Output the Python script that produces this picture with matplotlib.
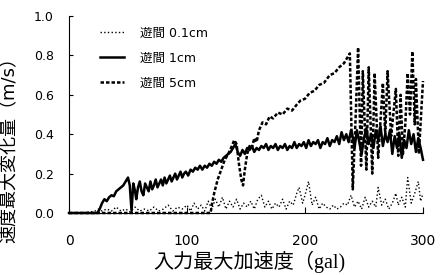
import matplotlib
matplotlib.use("Agg")
import matplotlib.pyplot as plt

# data
# ---------------------------
# 遊間 0.1cm (dotted)
x_01 = [0, 10, 18, 22, 25, 28, 32, 36, 40, 44, 48, 52, 56, 60, 64, 68, 72, 76, 80,
        84, 88, 92, 96, 100, 103, 106, 109, 112, 115, 118, 121, 124, 127, 130, 133,
        136, 139, 142, 145, 148, 151, 154, 157, 160, 163, 166, 169, 172, 175, 178,
        181, 184, 187, 190, 193, 195, 198, 200, 203, 206, 209, 212, 215, 218, 221,
        224, 227, 230, 233, 236, 239, 242, 245, 248, 251, 254, 257, 260, 262, 265,
        268, 271, 274, 277, 279, 282, 285, 287, 290, 293, 296, 298, 300]
y_01 = [0, 0, 0.005, 0.01, 0.02, 0.01, 0.02, 0.01, 0.03, 0.01, 0.02, 0.005, 0.03,
        0.01, 0.02, 0.01, 0.03, 0.01, 0.02, 0.04, 0.01, 0.03, 0.02, 0.04, 0.01, 0.05,
        0.02, 0.04, 0.01, 0.06, 0.02, 0.07, 0.03, 0.08, 0.02, 0.06, 0.03, 0.07, 0.02,
        0.05, 0.03, 0.06, 0.02, 0.07, 0.09, 0.03, 0.06, 0.02, 0.05, 0.03, 0.07, 0.02,
        0.06, 0.04, 0.10, 0.13, 0.05, 0.09, 0.16, 0.04, 0.08, 0.02, 0.05, 0.03, 0.02,
        0.04, 0.02, 0.03, 0.05, 0.04, 0.09, 0.03, 0.06, 0.02, 0.08, 0.03, 0.06, 0.03,
        0.13, 0.04, 0.07, 0.02, 0.05, 0.10, 0.04, 0.08, 0.03, 0.18, 0.05, 0.10, 0.16,
        0.06, 0.10]

# 遊間 1cm (solid)
x_1 = [0, 24, 26, 28, 30, 32, 34, 36, 38, 40, 42, 44, 46, 48, 50, 51.5, 53, 54.5,
       56, 57, 58.5, 60, 61.5, 63, 64.5, 66, 67.5, 69, 70.5, 72, 73.5, 75, 76.5, 78,
       79.5, 81, 82.5, 84, 85.5, 87, 88.5, 90, 91.5, 93, 94.5, 96, 97.5, 99, 101,
       103, 105, 107, 109, 111, 113, 115, 117, 119, 121, 123, 125, 127, 129, 131,
       133, 135, 137, 139, 141, 143, 145, 147, 149, 151, 153, 155, 157, 159, 161,
       163, 165, 167, 169, 171, 173, 175, 177, 179, 181, 183, 185, 187, 189, 191,
       193, 195, 197, 199, 201, 203, 205, 207, 209, 211, 213, 215, 217, 219, 221,
       223, 225, 227, 229, 231, 233, 235, 237, 239, 240, 242, 244, 246, 248, 250,
       252, 254, 256, 258, 260, 262, 264, 266, 268, 270, 272, 274, 276, 278, 280,
       282, 284, 286, 288, 290, 292, 294, 296, 298, 300]
y_1 = [0, 0, 0.02, 0.05, 0.07, 0.06, 0.08, 0.09, 0.085, 0.11, 0.12, 0.13, 0.14,
       0.16, 0.18, 0.14, 0.01, 0.15, 0.11, 0.07, 0.13, 0.16, 0.11, 0.09, 0.15, 0.13,
       0.11, 0.16, 0.12, 0.14, 0.17, 0.13, 0.15, 0.17, 0.14, 0.18, 0.15, 0.17, 0.19,
       0.16, 0.18, 0.20, 0.17, 0.19, 0.21, 0.18, 0.20, 0.21, 0.19, 0.22, 0.21, 0.23,
       0.22, 0.24, 0.22, 0.24, 0.23, 0.25, 0.24, 0.26, 0.25, 0.27, 0.26, 0.28, 0.29,
       0.30, 0.31, 0.33, 0.35, 0.31, 0.29, 0.32, 0.30, 0.33, 0.32, 0.34, 0.31, 0.33,
       0.32, 0.34, 0.33, 0.35, 0.32, 0.34, 0.33, 0.35, 0.32, 0.34, 0.33, 0.35, 0.32,
       0.34, 0.33, 0.36, 0.33, 0.35, 0.34, 0.36, 0.33, 0.37, 0.34, 0.36, 0.35, 0.37,
       0.33, 0.36, 0.35, 0.38, 0.34, 0.37, 0.36, 0.39, 0.35, 0.41, 0.37, 0.40, 0.36,
       0.42, 0.40, 0.33, 0.42, 0.36, 0.30, 0.38, 0.43, 0.35, 0.40, 0.33, 0.42, 0.37,
       0.44, 0.34, 0.40, 0.36, 0.42, 0.30, 0.39, 0.33, 0.40, 0.28, 0.37, 0.33, 0.42,
       0.35, 0.40, 0.31, 0.38, 0.33, 0.27]

# 遊間 5cm (dashed)
x_5 = [0, 120, 121, 123, 126, 129, 132, 135, 138, 140, 142, 144, 146, 147.5, 149,
       151, 153, 155, 157, 159, 161, 164, 167, 170, 173, 177, 181, 185, 189, 193,
       196, 200, 204, 208, 212, 216, 221, 225, 229, 233, 236, 238, 240.5, 243, 245,
       247.5, 249, 252, 254, 257, 259, 262, 266, 268, 270, 273, 277, 279, 281, 283,
       285, 287, 289, 291, 293, 294, 296.5, 300]
y_5 = [0, 0, 0.04, 0.10, 0.17, 0.22, 0.27, 0.30, 0.34, 0.37, 0.35, 0.25, 0.17,
       0.14, 0.22, 0.30, 0.34, 0.33, 0.38, 0.36, 0.42, 0.46, 0.45, 0.49, 0.48, 0.51,
       0.50, 0.53, 0.52, 0.55, 0.57, 0.58, 0.61, 0.62, 0.65, 0.66, 0.70, 0.71, 0.74,
       0.76, 0.79, 0.81, 0.12, 0.50, 0.84, 0.24, 0.72, 0.22, 0.74, 0.20, 0.71, 0.28,
       0.66, 0.40, 0.72, 0.39, 0.63, 0.29, 0.60, 0.30, 0.45, 0.71, 0.50, 0.82, 0.45,
       0.68, 0.30, 0.67]

labels = ["遊間 0.1cm", "遊間 1cm", "遊間 5cm"]
xticks = [0, 100, 200, 300]
yticks = [0.0, 0.2, 0.4, 0.6, 0.8, 1.0]

# figure
# ------
fig = plt.figure(figsize=(4.42, 2.75), dpi=100)
ax = fig.add_axes([69 / 442, 62 / 275, 354 / 442, 197 / 275])

ax.plot(x_01, y_01, color="black", linestyle=":", linewidth=1.0,
        label=labels[0], clip_on=False)
ax.plot(x_1, y_1, color="black", linestyle="-", linewidth=1.8,
        label=labels[1], clip_on=False)
ax.plot(x_5, y_5, color="black", linestyle=(0, (1.4, 0.8)), linewidth=1.8,
        label=labels[2], clip_on=False)

ax.set_xlim(0, 300)
ax.set_ylim(0, 1.0)
ax.set_xticks(xticks)
ax.set_yticks(yticks)
ax.set_yticklabels([f"{v:.1f}" for v in yticks])

for side in ["top", "right"]:
    ax.spines[side].set_visible(False)
for side in ["left", "bottom"]:
    ax.spines[side].set_linewidth(0.8)

ax.tick_params(axis="y", direction="in", length=3, width=0.8, pad=11, labelsize=9)
ax.tick_params(axis="x", direction="in", length=4, width=0.8, pad=15, labelsize=10)

# axis labels
ax.set_xlabel("入力最大加速度（gal)", fontsize=14.5,
              family=["Liberation Serif", "Noto Sans CJK JP"])
ax.xaxis.set_label_coords(0.51, -0.249)
ax.xaxis.label.set_va("center")

ax.set_ylabel("速度最大変化量（m/s）", fontsize=13,
              family=["DejaVu Sans", "Noto Sans CJK JP"])
ax.yaxis.set_label_coords(-0.167, 0.345)
ax.yaxis.label.set_va("center")

# legend
leg = ax.legend(loc="upper left", bbox_to_anchor=(0.088, 0.945), frameon=False,
                borderpad=0, borderaxespad=0, handlelength=1.9, handletextpad=1.3,
                labelspacing=0.95,
                prop={"family": ["DejaVu Sans", "Noto Sans CJK JP"], "size": 9})

fig.savefig("out.png", dpi=100)
